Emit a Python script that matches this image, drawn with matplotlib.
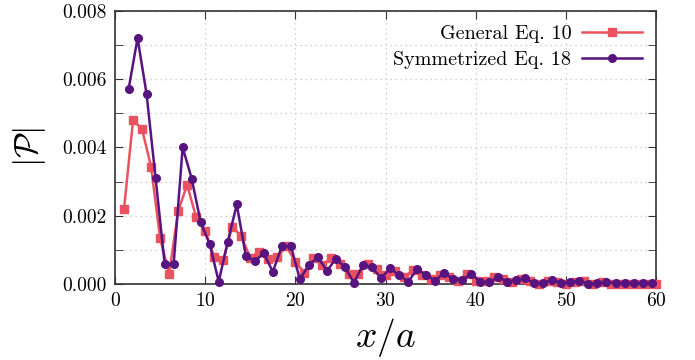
import matplotlib
matplotlib.use("Agg")
import matplotlib.pyplot as plt
from matplotlib.ticker import MultipleLocator, FormatStrFormatter

plt.rcParams['font.family'] = ['cmr10', 'DejaVu Serif']
plt.rcParams['mathtext.fontset'] = 'cm'
plt.rcParams['axes.unicode_minus'] = False
plt.rcParams['axes.formatter.use_mathtext'] = True

# ---- data ----
x_general = [k for k in range(1, 61)]
general = [0.0022, 0.0048, 0.00453, 0.00343, 0.00134, 0.0003, 0.00214, 0.0029, 0.00195, 0.00155,
           0.0008, 0.0007, 0.00168, 0.0014, 0.00077, 0.00095, 0.00072, 0.0008, 0.0011, 0.00065,
           0.00033, 0.00075, 0.00056, 0.00075, 0.0006, 0.00029, 0.0003, 0.0006, 0.00043, 0.00027,
           0.00037, 0.0002, 0.0004, 0.00027, 0.00016, 0.00027, 0.0002, 0.0001, 0.0003, 0.0001,
           0.0001, 0.0002, 0.00015, 0.00005, 0.00015, 0.00008, 0.0, 0.00008, 0.00005, 0.0,
           0.00005, 0.00008, 0.0, 0.00005, 0.0, 0.0, 0.0, 0.0, 0.0, 0.0]

x_sym = [k + 0.5 for k in range(1, 60)]
symmetrized = [0.0057, 0.0072, 0.00556, 0.0031, 0.0006, 0.00058, 0.0040, 0.00309, 0.00181, 0.00117,
               0.00007, 0.00124, 0.00233, 0.00083, 0.00067, 0.0009, 0.00036, 0.00111, 0.00111, 0.00014,
               0.00056, 0.00078, 0.00039, 0.00074, 0.00049, 0.00004, 0.00056, 0.00049, 0.00017, 0.00046,
               0.00026, 0.00007, 0.00043, 0.00026, 0.0001, 0.00033, 0.00014, 0.00013, 0.00029, 0.00007,
               0.00005, 0.00021, 0.00007, 0.00012, 0.00017, 0.00002, 0.00004, 0.00012, 0.00004, 0.00006,
               0.0001, 0.0, 0.00002, 0.00005, 0.00004, 0.00003, 0.00003, 0.00003, 0.00003]

labels = ["General Eq. 10", "Symmetrized Eq. 18"]
red = '#eb5260'
purple = '#57137f'

fig = plt.figure(figsize=(6.95, 3.6), dpi=100)
ax = fig.add_axes([0.1655, 0.211, 0.7785, 0.759])

ax.plot(x_general, general, color=red, lw=1.8, marker='s', ms=5.5, label=labels[0],
        clip_on=False, zorder=3)
ax.plot(x_sym, symmetrized, color=purple, lw=1.8, marker='o', ms=5.5, label=labels[1],
        clip_on=False, zorder=4)

ax.set_xlim(0, 60)
ax.set_ylim(0, 0.008)
ax.xaxis.set_major_locator(MultipleLocator(10))
ax.yaxis.set_major_locator(MultipleLocator(0.002))
ax.yaxis.set_minor_locator(MultipleLocator(0.001))
ax.yaxis.set_major_formatter(FormatStrFormatter('%.3f'))

ax.tick_params(which='both', direction='in', top=True, right=True, labelsize=14,
               color='#333333', pad=6)
ax.tick_params(which='major', length=6)
ax.tick_params(which='minor', length=6)

ax.grid(True, which='major', axis='x', color='#c4c4c4', ls=(0, (1, 3)), lw=0.9)
ax.grid(True, which='both', axis='y', color='#c4c4c4', ls=(0, (1, 3)), lw=0.9)
ax.set_axisbelow(True)

for s in ax.spines.values():
    s.set_color('#333333')
    s.set_linewidth(1.2)

ax.set_xlabel(r'$x/a$', fontsize=27, labelpad=4)
ax.set_ylabel(r'$|\mathcal{P}|$', fontsize=24, labelpad=10)

leg = ax.legend(loc='upper right', frameon=False, markerfirst=False, fontsize=14.5,
                handlelength=3.0, borderaxespad=0.3, labelspacing=0.4, handletextpad=0.5)

fig.savefig('out.png', dpi=100)
